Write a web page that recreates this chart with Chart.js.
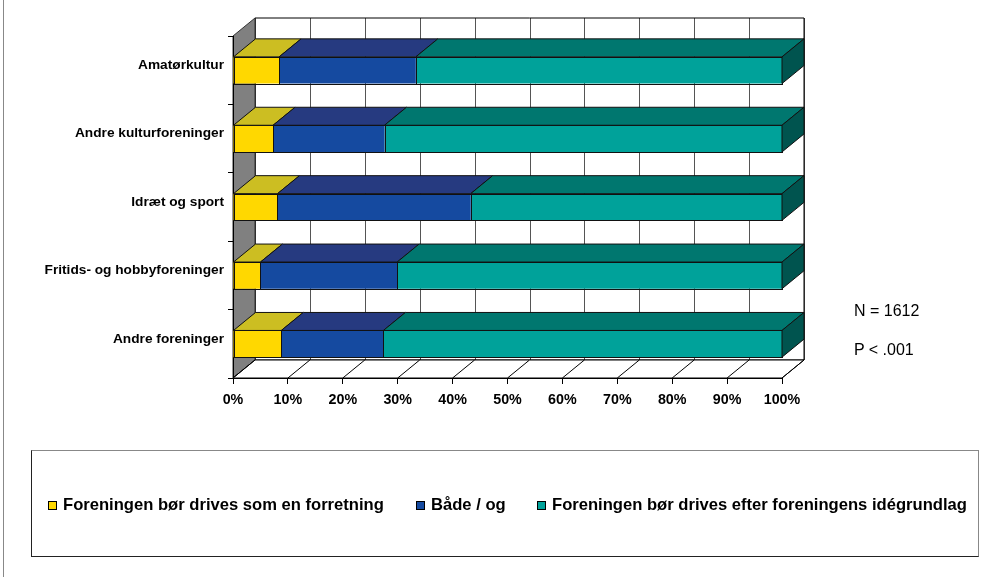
<!DOCTYPE html>
<html>
<head>
<meta charset="utf-8">
<title>Foreninger</title>
<script src="https://cdn.jsdelivr.net/npm/chart.js@4/dist/chart.umd.min.js"></script>
<style>
    html, body { margin: 0; padding: 0; background: #fff; }
    #wrap { position: relative; width: 999px; height: 577px; overflow: hidden; font-family: "Liberation Sans", Arial, sans-serif; }
    #wrap .edge { position: absolute; left: 3px; top: 0; width: 1px; height: 577px; background: #888; }
    #chart { position: absolute; left: 0; top: 0; }
    .note { position: absolute; left: 854px; font-size: 16px; color: #000; line-height: 16px; }
    #legend { position: absolute; left: 31px; top: 450px; width: 946px; height: 105px;
        border-top: 1px solid #888; border-right: 1px solid #888; border-left: 1px solid #222; border-bottom: 1px solid #222; }
    #legend .item { position: absolute; top: 45px; font-weight: bold; font-size: 16.6px; line-height: 18px; white-space: nowrap; }
    #legend .box { position: absolute; top: 5px; width: 7px; height: 7px; border: 1px solid #000; }
</style>
</head>
<body>
<div id="wrap">
    <div class="edge"></div>
    <canvas id="chart" width="999" height="577"></canvas>
    <div class="note" style="top:303px">N = 1612</div>
    <div class="note" style="top:342px">P &lt; .001</div>
    <div id="legend"></div>
</div>
<script>
(function () {
    'use strict';

    // data
    var categories = ['Amatørkultur', 'Andre kulturforeninger', 'Idræt og sport', 'Fritids- og hobbyforeninger', 'Andre foreninger'];
    var seriesNames = ['Foreningen bør drives som en forretning', 'Både / og', 'Foreningen bør drives efter foreningens idégrundlag'];
    var forretning = [8.4, 7.3, 8.1, 5.0, 8.8];
    var baadeOg = [24.9, 20.3, 35.2, 24.9, 18.6];
    var ideGrundlag = [66.7, 72.4, 56.7, 70.1, 72.6];

    // farver: front, top, side
    var fronts = ['#FFD800', '#154AA0', '#00A29A'];
    var tops = ['#CCBE22', '#263A80', '#00776F'];
    var sides = ['#B3A51C', '#1B2C66', '#00544F'];

    var DX = 22, DY = 18;
    var font = '"Liberation Sans", Arial, sans-serif';

    function poly(ctx, pts, fill, stroke) {
        ctx.beginPath();
        ctx.moveTo(pts[0][0], pts[0][1]);
        for (var i = 1; i < pts.length; i++) {
            ctx.lineTo(pts[i][0], pts[i][1]);
        }
        ctx.closePath();
        if (fill) { ctx.fillStyle = fill; ctx.fill(); }
        if (stroke) { ctx.strokeStyle = stroke; ctx.lineWidth = 1; ctx.stroke(); }
    }

    // vægge, gulv og gitterlinjer bag søjlerne
    var walls = {
        id: 'walls',
        beforeDraw: function (chart) {
            var ctx = chart.ctx, a = chart.chartArea, xs = chart.scales.x;
            var l = a.left, r = a.right, t = a.top, b = a.bottom;
            ctx.save();
            // bagvæg
            poly(ctx, [[l + DX, t - DY], [r + DX, t - DY], [r + DX, b - DY], [l + DX, b - DY]], '#fff', null);
            ctx.strokeStyle = '#555';
            ctx.lineWidth = 1;
            xs.ticks.forEach(function (tk) {
                var px = Math.round(xs.getPixelForValue(tk.value) + DX) + 0.5;
                ctx.beginPath();
                ctx.moveTo(px, t - DY);
                ctx.lineTo(px, b - DY);
                ctx.stroke();
            });
            poly(ctx, [[l + DX, t - DY], [r + DX, t - DY], [r + DX, b - DY], [l + DX, b - DY]], null, '#000');
            // venstre væg
            poly(ctx, [[l, t], [l + DX, t - DY], [l + DX, b - DY], [l, b]], '#808080', '#333');
            // gulv
            poly(ctx, [[l, b], [l + DX, b - DY], [r + DX, b - DY], [r, b]], '#fff', '#000');
            ctx.strokeStyle = '#000';
            xs.ticks.forEach(function (tk) {
                var px = xs.getPixelForValue(tk.value);
                ctx.beginPath();
                ctx.moveTo(px, b);
                ctx.lineTo(px + DX, b - DY);
                ctx.stroke();
            });
            ctx.restore();
        },
        afterDatasetsDraw: function (chart) {
            var ctx = chart.ctx, last = chart.data.datasets.length - 1;
            ctx.save();
            chart.data.datasets.forEach(function (ds, di) {
                chart.getDatasetMeta(di).data.forEach(function (el) {
                    var p = el.getProps(['x', 'y', 'base', 'height'], true);
                    var x0 = Math.min(p.x, p.base), x1 = Math.max(p.x, p.base);
                    var yt = p.y - p.height / 2, yb = p.y + p.height / 2;
                    // forside-kant
                    ctx.strokeStyle = '#111';
                    ctx.lineWidth = 1;
                    ctx.strokeRect(Math.round(x0) + 0.5, Math.round(yt) + 0.5, Math.round(x1) - Math.round(x0), Math.round(yb) - Math.round(yt));
                    poly(ctx, [[x0, yt], [x0 + DX, yt - DY], [x1 + DX, yt - DY], [x1, yt]], tops[di], '#111');
                    if (di === last) {
                        poly(ctx, [[x1, yt], [x1 + DX, yt - DY], [x1 + DX, yb - DY], [x1, yb]], sides[di], '#111');
                    }
                });
            });
            ctx.restore();
        }
    };

    var values = [forretning, baadeOg, ideGrundlag];
    var datasets = values.map(function (v, i) {
        return {
            label: seriesNames[i],
            data: v,
            backgroundColor: fronts[i],
            borderWidth: 0,
            categoryPercentage: 1,
            barPercentage: 0.39
        };
    });

    new Chart(document.getElementById('chart').getContext('2d'), {
        type: 'bar',
        data: { labels: categories, datasets: datasets },
        plugins: [walls],
        options: {
            indexAxis: 'y',
            responsive: false,
            animation: false,
            devicePixelRatio: 1,
            layout: { padding: { left: 0, top: 36, right: 217, bottom: 0 } },
            plugins: { legend: { display: false }, tooltip: { enabled: false } },
            scales: {
                x: {
                    stacked: true,
                    min: 0,
                    max: 100,
                    afterFit: function (s) { s.height = 199; },
                    ticks: {
                        stepSize: 10,
                        color: '#000',
                        padding: 7,
                        font: { family: font, size: 14.3, weight: 'bold' },
                        callback: function (v) { return v + '%'; }
                    },
                    grid: { drawOnChartArea: false, drawTicks: true, tickLength: 6, color: '#000' },
                    border: { display: true, color: '#000' }
                },
                y: {
                    stacked: true,
                    afterFit: function (s) { s.width = 233; },
                    ticks: {
                        color: '#000',
                        padding: 4,
                        labelOffset: -5,
                        font: { family: font, size: 13.7, weight: 'bold' }
                    },
                    grid: { offset: true, drawOnChartArea: false, drawTicks: true, tickLength: 5, color: '#000' },
                    border: { display: true, color: '#000' }
                }
            }
        }
    });

    // forklaring
    var legend = document.getElementById('legend');
    var lefts = [16, 384, 505];
    seriesNames.forEach(function (name, i) {
        var item = document.createElement('div');
        item.className = 'item';
        item.style.left = lefts[i] + 'px';
        item.innerHTML = '<span class="box" style="left:0;background:' + fronts[i] + '"></span>' +
            '<span style="padding-left:15px">' + name + '</span>';
        legend.appendChild(item);
    });
})();
</script>
</body>
</html>
